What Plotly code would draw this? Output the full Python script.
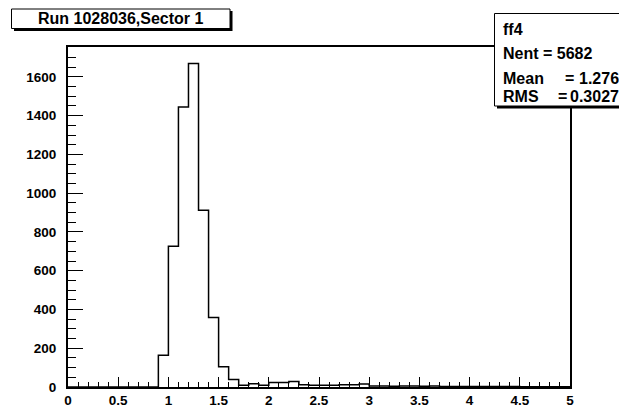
import plotly.graph_objects as go

# ---- data ----
bin_low = 0.0
bin_width = 0.1
counts = [0, 0, 0, 0, 0, 0, 0, 0, 0,
          164, 726, 1445, 1669, 912, 359, 104, 39,
          9, 17, 9, 23, 23, 29, 12, 9, 9, 9, 12, 12, 15,
          5, 5, 4, 5, 5, 4, 5,
          2, 2, 2, 2, 2, 2, 2, 2, 1, 1, 1, 1, 1]
title_text = "Run 1028036,Sector 1"
stats_name = "ff4"
stats_nent = 5682
stats_mean = "1.276"
stats_rms = "0.3027"
x_range = [0, 5]
y_max = 1754

# ---- geometry helpers (pixel -> paper) ----
W, H = 619, 409
L, R, T, B = 68, 570, 47, 387


def px(x):
    return (x - L) / (R - L)


def py(y):
    return (B - y) / (B - T)


edges = [bin_low + i * bin_width for i in range(len(counts) + 1)]
ys = counts + [counts[-1]]

fig = go.Figure()
fig.add_trace(go.Scatter(x=edges, y=ys, mode="lines", line=dict(color="black", width=1.5, shape="hv"),
                         hoverinfo="skip", showlegend=False))

font_tick = dict(family="Liberation Sans, Arial", size=13.5, color="black", weight="bold")
fig.update_xaxes(range=x_range, dtick=0.5, tick0=0, ticks="inside", ticklen=10, tickwidth=1,
                 tickcolor="black", showline=True, linecolor="black", linewidth=2, mirror=True,
                 showgrid=False, zeroline=False, tickfont=font_tick, ticklabelstandoff=0, automargin=False,
                 minor=dict(ticks="inside", dtick=0.1, ticklen=5, tickcolor="black", tickwidth=1, showgrid=False))
fig.update_yaxes(range=[0, y_max], dtick=200, tick0=0, ticks="inside", ticklen=15, tickwidth=1,
                 tickcolor="black", showline=True, linecolor="black", linewidth=2, mirror=True,
                 showgrid=False, zeroline=False, tickfont=font_tick, ticklabelstandoff=7, automargin=False,
                 minor=dict(ticks="inside", dtick=50, ticklen=8, tickcolor="black", tickwidth=1, showgrid=False))

shapes = []
# title box with shadow
shapes.append(dict(type="rect", xref="paper", yref="paper", x0=px(14), x1=px(232.5), y0=py(11), y1=py(31),
                   fillcolor="black", line=dict(width=0), layer="above"))
shapes.append(dict(type="rect", xref="paper", yref="paper", x0=px(11.5), x1=px(230), y0=py(9), y1=py(28.5),
                   fillcolor="white", line=dict(color="black", width=1), layer="above"))
# stats box with shadow
shapes.append(dict(type="rect", xref="paper", yref="paper", x0=px(497), x1=px(650), y0=py(16), y1=py(108.5),
                   fillcolor="black", line=dict(width=0), layer="above"))
shapes.append(dict(type="rect", xref="paper", yref="paper", x0=px(494.5), x1=px(640), y0=py(13.5), y1=py(106),
                   fillcolor="white", line=dict(color="black", width=1), layer="above"))
fig.update_layout(shapes=shapes)

font_box = dict(family="Liberation Sans, Arial", size=16, color="black", weight="bold")
ann = []
ann.append(dict(text=title_text, x=px(120.5), y=py(18.5), xref="paper", yref="paper", showarrow=False,
                xanchor="center", yanchor="middle", font=font_box))


def stat(text, x, y):
    ann.append(dict(text=text, x=px(x), y=py(y), xref="paper", yref="paper", showarrow=False,
                    xanchor="left", yanchor="middle", font=font_box))


stat(stats_name, 500.5, 30)
stat("Nent = %d" % stats_nent, 500.5, 53)
stat("Mean", 500.5, 78)
stat("=", 562.5, 78)
stat(stats_mean, 576.5, 78)
stat("RMS", 500.5, 96.5)
stat("=", 555.5, 96.5)
stat(stats_rms, 568, 96.5)
fig.update_layout(annotations=ann)

fig.update_layout(width=W, height=H, autosize=False,
                  margin=dict(l=L, r=W - R, t=T, b=H - B, pad=0, autoexpand=False),
                  plot_bgcolor="white", paper_bgcolor="white", showlegend=False)

fig.write_html("out.html", config={"displayModeBar": False, "staticPlot": True},
               post_script="document.body.style.margin='0';document.body.style.padding='0';"
                           "document.body.style.overflow='hidden';")
